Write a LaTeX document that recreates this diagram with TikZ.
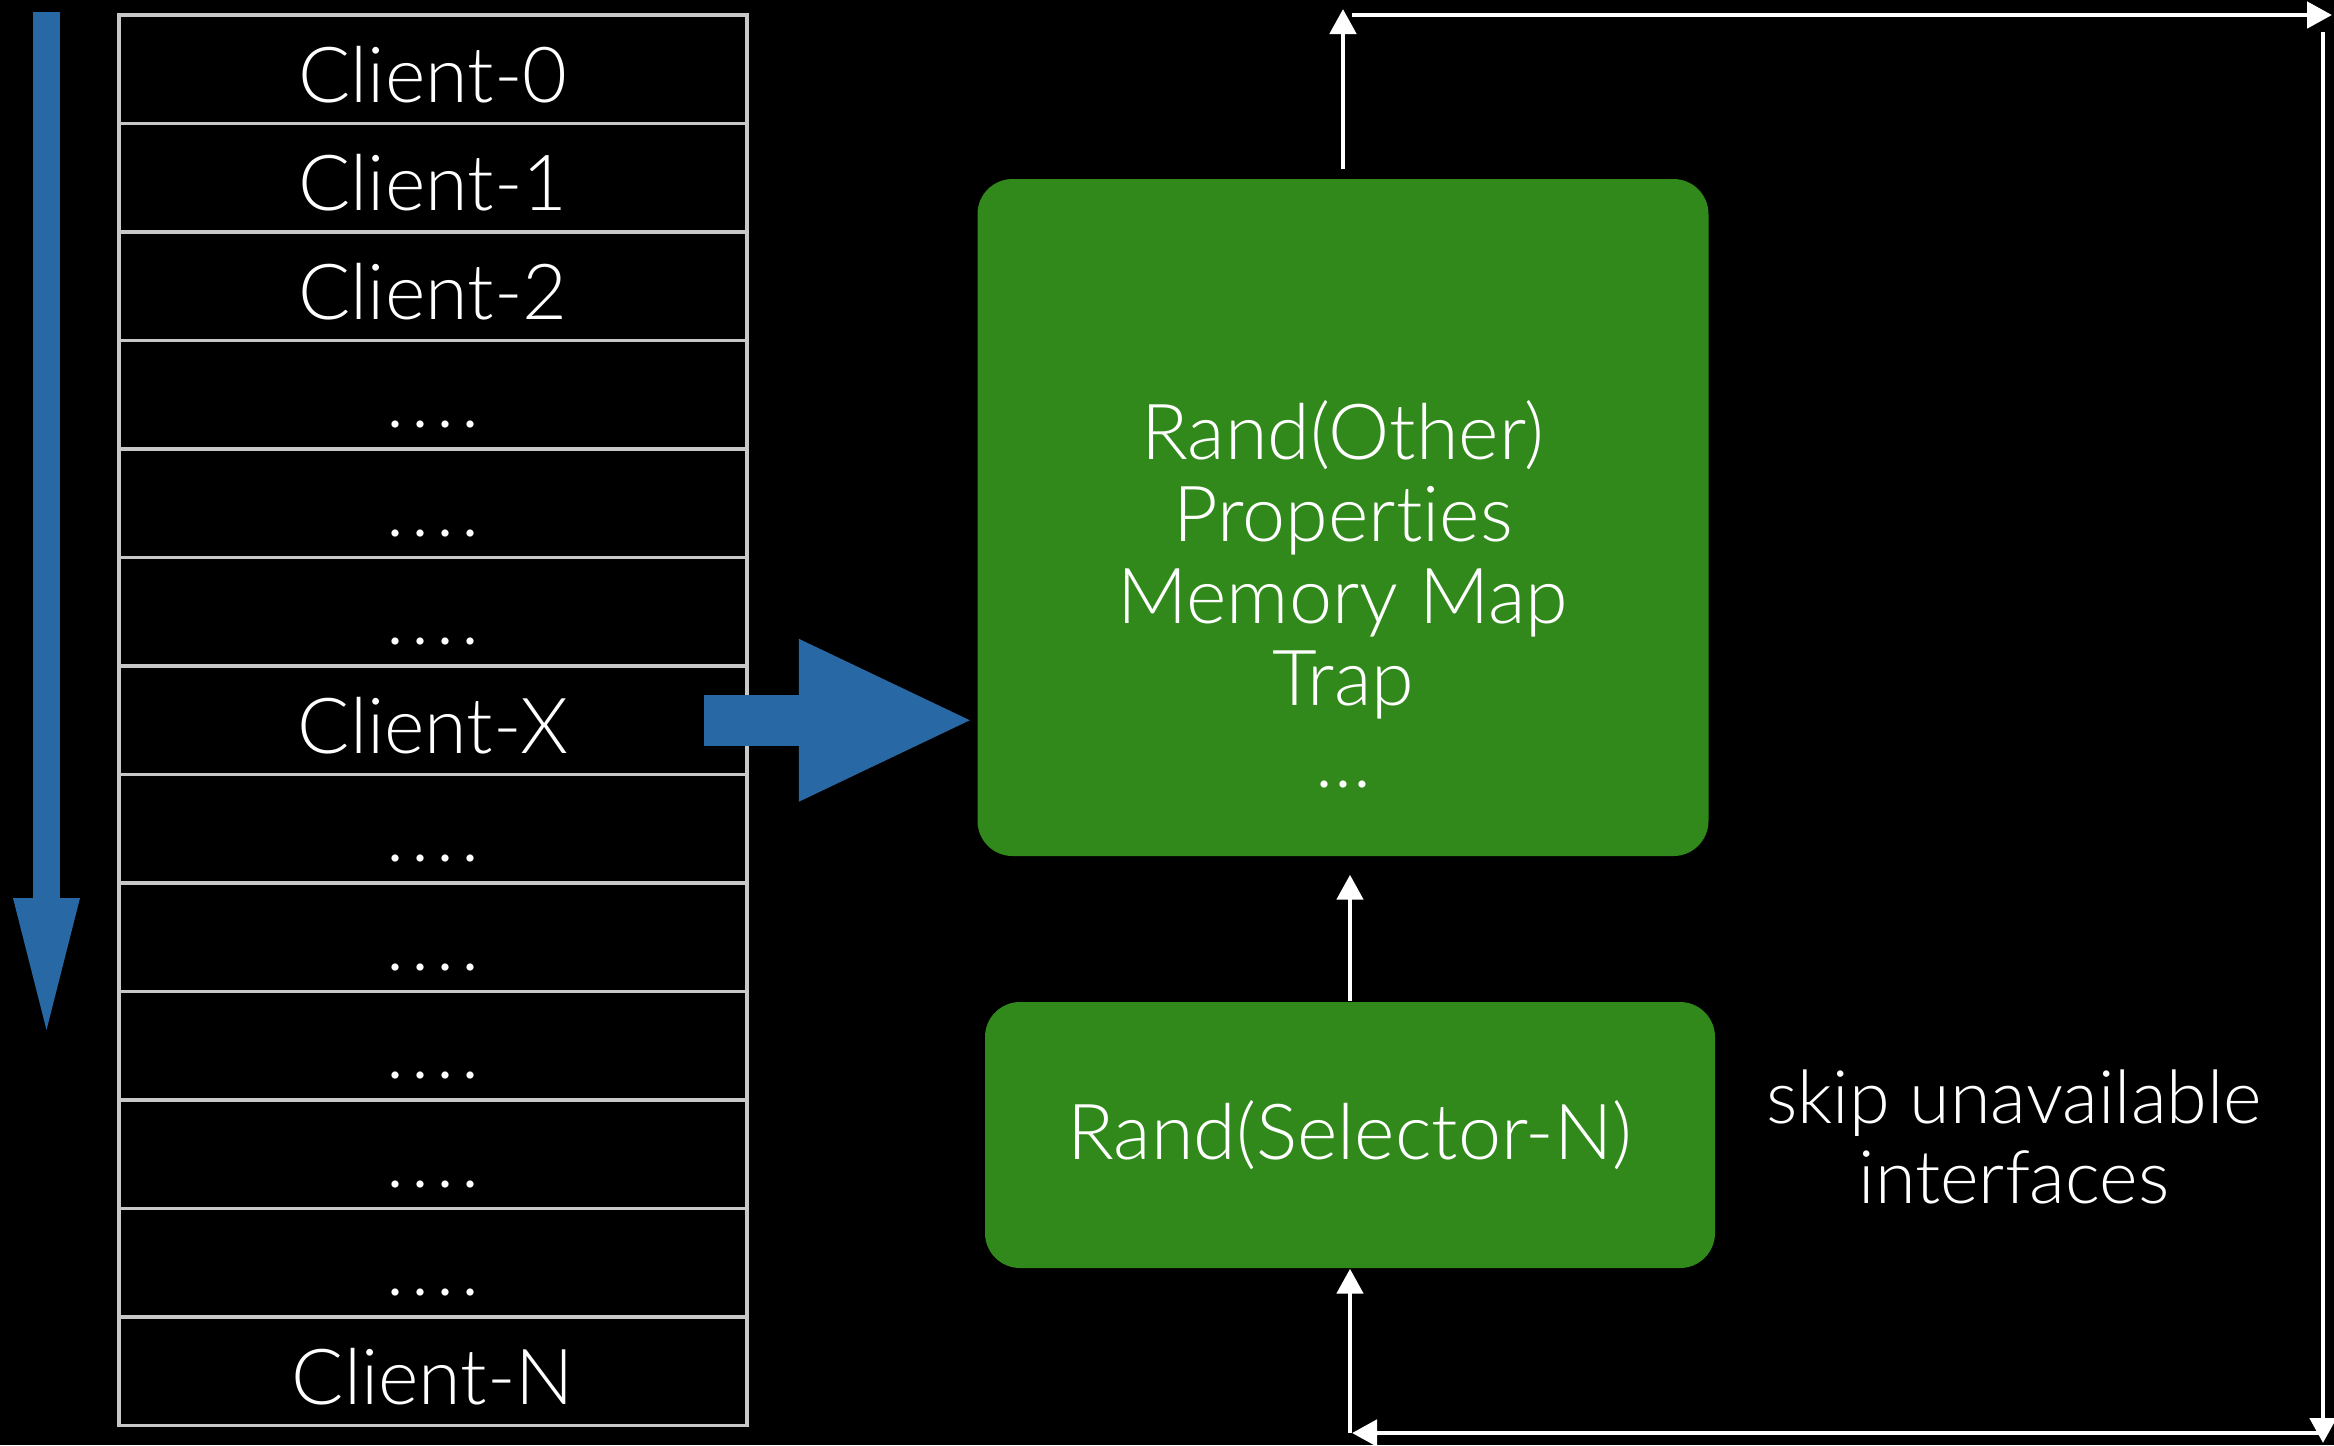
\documentclass[tikz,border=0pt]{standalone}
\usepackage{fontspec}
\setmainfont{Lato}[UprightFont=* Light, Ligatures=NoCommon]
\usepackage{tikz}
\usetikzlibrary{arrows.meta, positioning}

\definecolor{boxgreen}{RGB}{48,137,26}
\definecolor{scanblue}{RGB}{40,105,165}
\definecolor{rowgray}{RGB}{200,200,200}
\newcommand{\rowdots}{.\kern2pt.\kern2pt.\kern2pt.}

\begin{document}
\begin{tikzpicture}[
    font=\fontsize{22}{23.3}\selectfont,
    row/.style={rectangle, draw=rowgray, line width=0.9pt, minimum width=6.28cm, minimum height=1.085cm, inner sep=0pt, text=white, text height=20pt, text depth=1.2pt},
    greenbox/.style={rectangle, fill=boxgreen, rounded corners=0.35cm, inner sep=0pt, text=white},
    wtext/.style={text=white, align=center},
    scanarrow/.style={draw=scanblue, line width=0.27cm, -{Triangle[length=1.32cm, width=0.67cm, line width=0pt]}},
    pickarrow/.style={draw=scanblue, line width=0.51cm, -{Triangle[length=1.71cm, width=1.63cm, line width=0pt]}},
    thinarrow/.style={draw=white, line width=1.4pt, -{Triangle[length=0.25cm, width=0.26cm]}},
]

\fill[black] (0,0) rectangle (23.34,-14.45);
\useasboundingbox (0,0) rectangle (23.34,-14.45);

% client table
\foreach \txt [count=\i from 0] in {Client-0, Client-1, Client-2, \rowdots, \rowdots, \rowdots, Client-X, \rowdots, \rowdots, \rowdots, \rowdots, \rowdots, Client-N}
    \node[row] (r\i) at (4.33, -0.6925-1.085*\i) {\txt};

\node[greenbox, minimum width=7.31cm, minimum height=6.77cm] (box1) at (13.43, -5.175) {};
\node[wtext] (box1text) at (13.43, -5.94) {Rand(Other)\\Propert\kern0pt ies\\Memory Map\\Trap\\…};
\node[greenbox, minimum width=7.30cm, minimum height=2.66cm] (box2) at (13.50, -11.35) {Rand(Selector-N)};
\node[wtext, font=\fontsize{21}{22.8}\selectfont] (skipnote) at (20.14, -11.37) {skip unavailable\\interfaces};

\coordinate (scantop) at (0.465, -0.12);
\coordinate (scanbot) at (0.465, -10.30);
\coordinate (upend) at (13.43, -0.09);
\coordinate (topstart) at (13.52, -0.15);
\coordinate (topend) at (23.32, -0.15);
\coordinate (rightstart) at (23.23, -0.32);
\coordinate (rightend) at (23.23, -14.43);
\coordinate (botstart) at (23.22, -14.33);
\coordinate (botend) at (13.52, -14.33);
\coordinate (loopstart) at (13.50, -14.33);

\draw[scanarrow] (scantop) -- (scanbot);
\draw[pickarrow, shorten >=0.07cm] ([xshift=-0.45cm]r6.east) -- (r6.east -| box1.west);

\draw[thinarrow] ([yshift=0.09cm]box1.north) -- (upend);
\draw[thinarrow] (topstart) -- (topend);
\draw[thinarrow] (rightstart) -- (rightend);
\draw[thinarrow] (botstart) -- (botend);
\draw[thinarrow] (loopstart) -- (box2.south);
\draw[thinarrow, shorten >=0.18cm] (box2.north) -- (box2.north |- box1.south);

\end{tikzpicture}
\end{document}
